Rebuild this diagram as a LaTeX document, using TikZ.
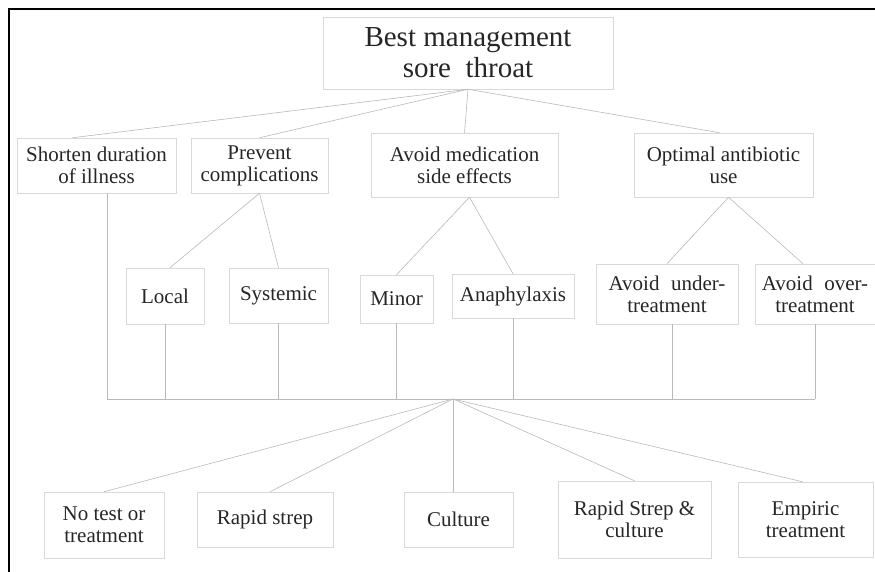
\documentclass[tikz,border=0pt]{standalone}
\usepackage{fontspec}
\setmainfont{Liberation Serif}

\begin{document}
\begin{tikzpicture}[x=1pt, y=-1pt, box node/.style={draw=gray!30, line width=0.5pt, align=center, inner sep=0pt, text=black!85, font=\fontsize{21}{22}\selectfont}, top node/.style={box node, font=\fontsize{29}{31}\selectfont}, link/.style={draw=gray!55, line width=0.6pt}]
  \useasboundingbox (0,0) rectangle (875,572);
  \draw[line width=2pt] (9,572) -- (9,9) -- (875,9);

  \node[top node, minimum width=290pt, minimum height=72pt] (n0) at (468,53) {Best management\\sore\ \ throat};
  \node[box node, minimum width=159pt, minimum height=55pt] (n1) at (96.5,165.5) {Shorten duration\\of illness};
  \node[box node, minimum width=137pt, minimum height=55pt] (n2) at (259.5,165.5) {Prevent\\complications};
  \node[box node, minimum width=187pt, minimum height=64pt] (n3) at (464.5,165) {Avoid medication\\side effects};
  \node[box node, minimum width=179pt, minimum height=64pt] (n4) at (723.5,165) {Optimal antibiotic\\use};
  \node[box node, minimum width=78pt, minimum height=56pt] (n5) at (165,296) {Local};
  \node[box node, minimum width=99pt, minimum height=55pt] (n6) at (278.5,295.5) {Systemic};
  \node[box node, minimum width=73pt, minimum height=48pt] (n7) at (396.5,299) {Minor};
  \node[box node, minimum width=122pt, minimum height=44pt] (n8) at (513,296) {Anaphylaxis};
  \node[box node, minimum width=142pt, minimum height=60pt] (n9) at (667,294) {Avoid\hspace{0.3em} under-\\treatment};
  \node[box node, minimum width=120pt, minimum height=60pt] (n10) at (815,294) {Avoid\hspace{0.3em} over-\\treatment};
  \node[box node, minimum width=120pt, minimum height=66pt] (n11) at (104,525) {No test or\\treatment};
  \node[box node, minimum width=136pt, minimum height=55pt] (n12) at (265,519.5) {Rapid strep};
  \node[box node, minimum width=109pt, minimum height=55pt] (n13) at (458.5,519.5) {Culture};
  \node[box node, minimum width=153pt, minimum height=77pt] (n14) at (634.5,519.5) {Rapid Strep \&\\culture};
  \node[box node, minimum width=135pt, minimum height=75pt] (n15) at (805.5,519.5) {Empiric\\treatment};
  \coordinate (h) at (453,399);

  \path[link]
  (n0.south) edge ([xshift=-24pt]n1.north)
  (n0.south) edge (n2.north)
  (n0.south) edge (n3.north)
  (n0.south) edge ([xshift=-4pt]n4.north)
  (n2.south) edge ([xshift=5pt]n5.north)
  (n2.south) edge (n6.north)
  ([xshift=5pt]n3.south) edge (n7.north)
  ([xshift=5pt]n3.south) edge (n8.north)
  ([xshift=5pt]n4.south) edge (n9.north)
  ([xshift=5pt]n4.south) edge ([xshift=-12pt]n10.north)
  ([xshift=10.5pt]n1.south) edge ([xshift=10.5pt]n1.south |- h)
  (n5.south) edge (n5.south |- h)
  (n6.south) edge (n6.south |- h)
  (n7.south) edge (n7.south |- h)
  (n8.south) edge (n8.south |- h)
  ([xshift=5pt]n9.south) edge ([xshift=5pt]n9.south |- h)
  (n10.south) edge (n10.south |- h)
  ([xshift=10.5pt]n1.south |- h) edge (n10.south |- h)
  (h) edge (n11.north)
  (h) edge ([xshift=5pt]n12.north)
  (h) edge (h |- n13.north)
  (h) edge (n14.north)
  (h) edge ([xshift=-3pt]n15.north);
\end{tikzpicture}
\end{document}
